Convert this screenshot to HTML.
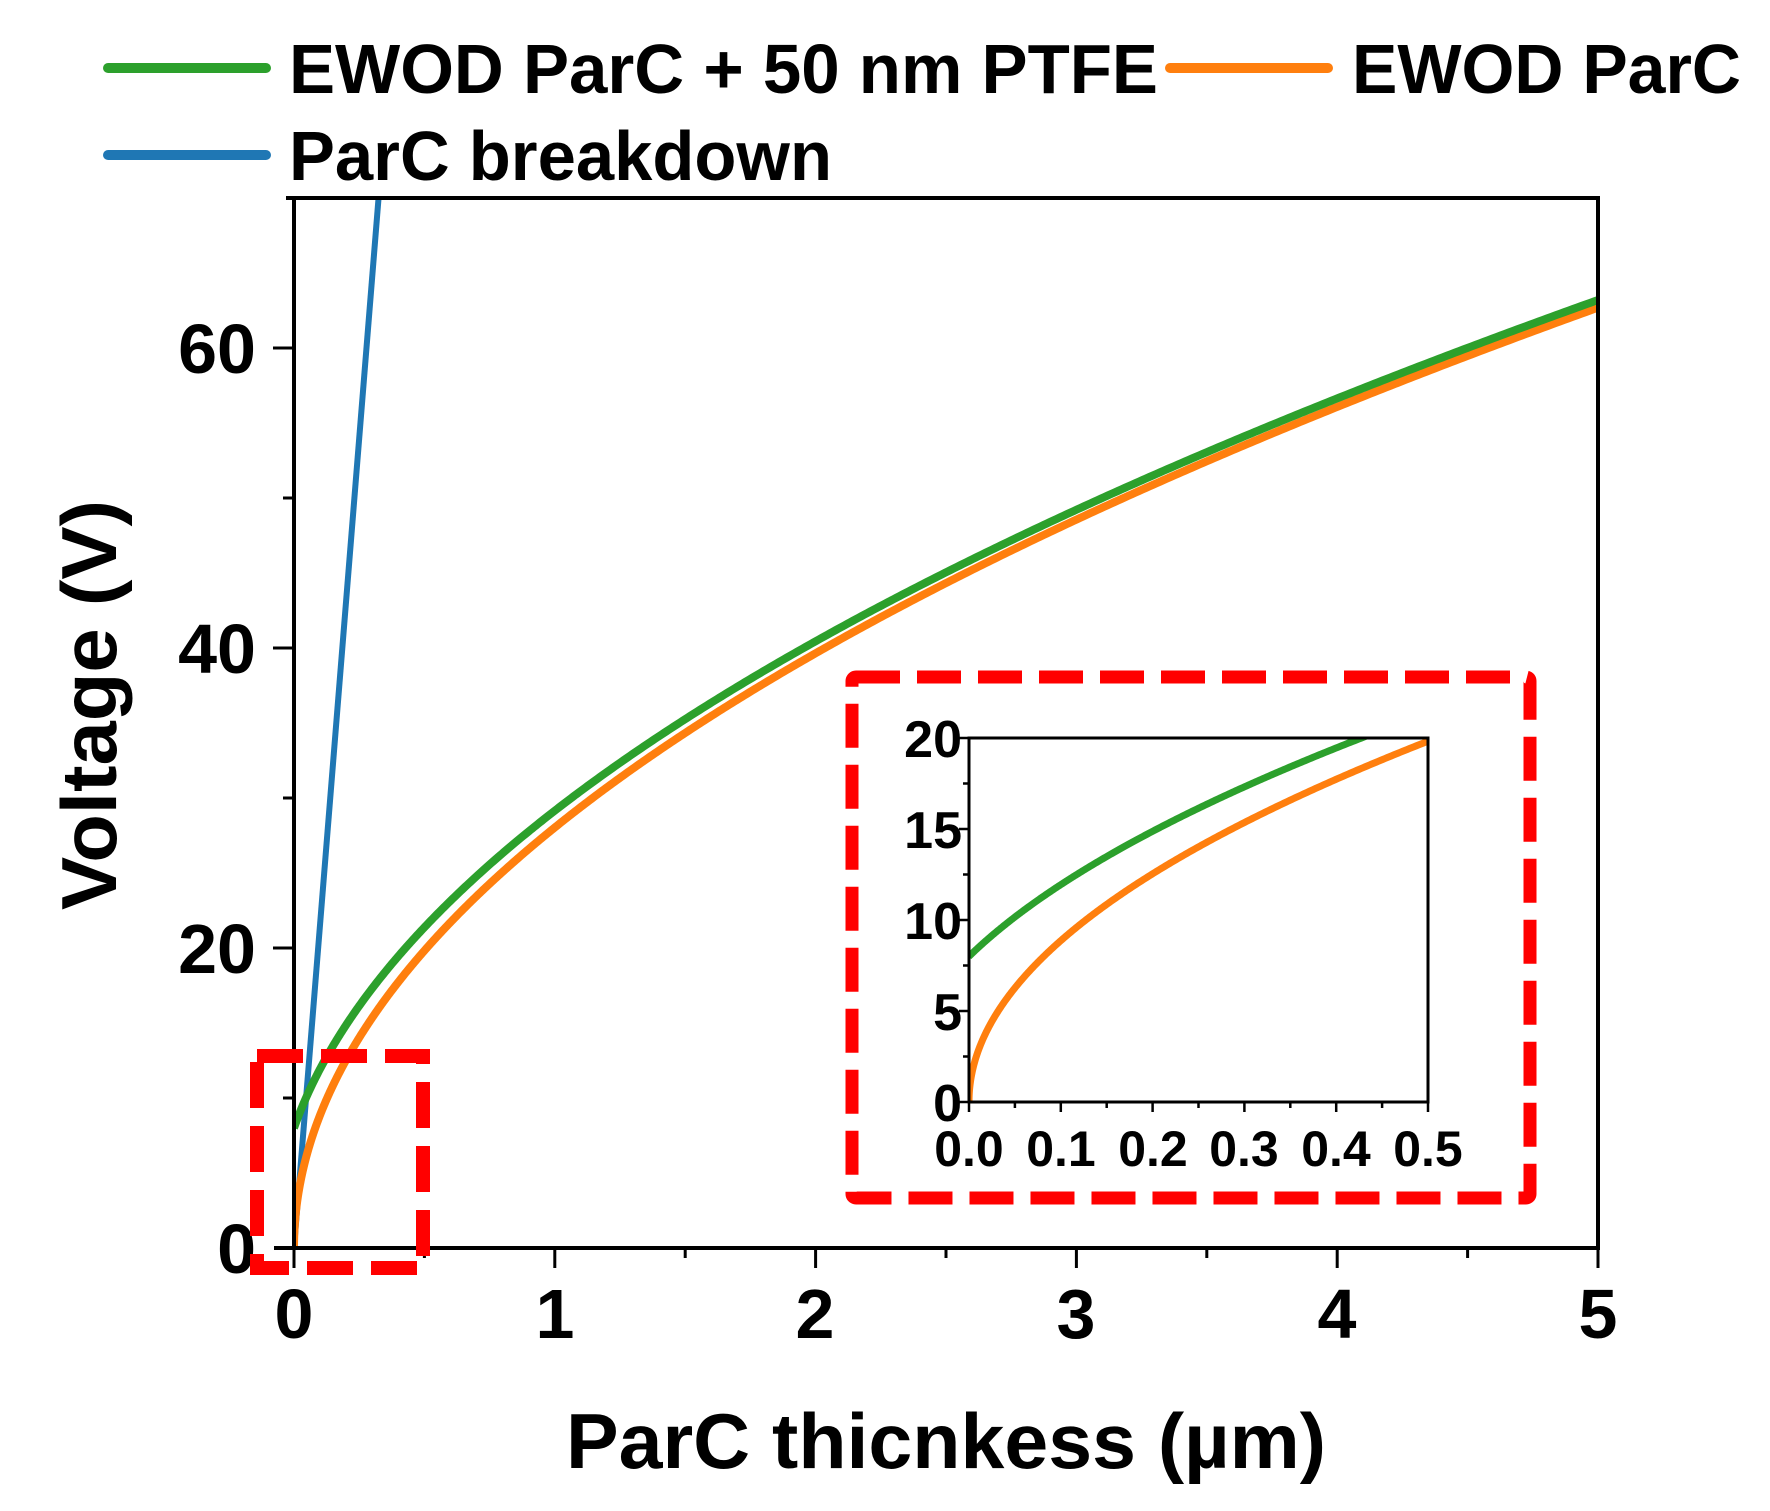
<!DOCTYPE html>
<html><head><meta charset="utf-8"><style>
html,body{margin:0;padding:0;background:#fff;}
svg{display:block;}
text{font-family:"Liberation Sans",Arial,sans-serif;font-weight:bold;fill:#000;}
</style></head><body>
<svg id="s" width="1770" height="1511" viewBox="0 0 1770 1511" xmlns="http://www.w3.org/2000/svg">
<defs>
<clipPath id="cm"><rect x="294" y="198" width="1304" height="1050"/></clipPath>
<clipPath id="ci"><rect x="969" y="738" width="459" height="364"/></clipPath>
</defs>
<line x1="108" y1="68" x2="266" y2="68" stroke="#2ca02c" stroke-width="10" stroke-linecap="round"/>
<text x="289" y="93" font-size="70" textLength="869" lengthAdjust="spacingAndGlyphs">EWOD ParC + 50 nm PTFE</text>
<line x1="1170" y1="68" x2="1328" y2="68" stroke="#ff7f0e" stroke-width="10" stroke-linecap="round"/>
<text x="1352" y="93" font-size="70" textLength="389" lengthAdjust="spacingAndGlyphs">EWOD ParC</text>
<line x1="108" y1="155" x2="266" y2="155" stroke="#1f77b4" stroke-width="10" stroke-linecap="round"/>
<text x="289" y="180" font-size="70" textLength="543" lengthAdjust="spacingAndGlyphs">ParC breakdown</text>

<g clip-path="url(#cm)" fill="none">
<path id="pb" stroke="#1f77b4" stroke-width="6"/>
<path id="po" stroke="#ff7f0e" stroke-width="8"/>
<path id="pg" stroke="#2ca02c" stroke-width="8"/>
</g>
<g stroke="#000" stroke-width="4" fill="none">
<rect x="294" y="198" width="1304" height="1050"/>
<line x1="274" y1="1248" x2="294" y2="1248"/>
<line x1="286" y1="198" x2="294" y2="198"/>
</g>
<g id="mt" stroke="#000" stroke-width="3"></g>
<g font-size="70" text-anchor="end">
<text x="256" y="373">60</text>
<text x="256" y="673">40</text>
<text x="256" y="973">20</text>
<text x="256" y="1273">0</text>
</g>
<g font-size="70" text-anchor="middle">
<text x="294" y="1338">0</text>
<text x="555" y="1338">1</text>
<text x="815" y="1338">2</text>
<text x="1076" y="1338">3</text>
<text x="1337" y="1338">4</text>
<text x="1598" y="1338">5</text>
</g>
<text x="566" y="1468" font-size="78" textLength="760" lengthAdjust="spacingAndGlyphs">ParC thicnkess (µm)</text>
<text transform="translate(116,910) rotate(-90)" font-size="78" textLength="410" lengthAdjust="spacingAndGlyphs">Voltage (V)</text>

<rect x="257" y="1056" width="166" height="212" fill="none" stroke="#ff0000" stroke-width="14" stroke-dasharray="46 18"/>
<rect x="852" y="677" width="678" height="521" fill="none" stroke="#ff0000" stroke-width="13" stroke-dasharray="44 17" rx="4"/>

<g clip-path="url(#ci)" fill="none">
<path id="io" stroke="#ff7f0e" stroke-width="7"/>
<path id="ig" stroke="#2ca02c" stroke-width="7"/>
</g>
<rect x="969" y="738" width="459" height="364" fill="none" stroke="#000" stroke-width="3"/>
<g id="it" stroke="#000" stroke-width="2.5"></g>
<g font-size="52" text-anchor="end">
<text x="962" y="757">20</text>
<text x="962" y="848">15</text>
<text x="962" y="939">10</text>
<text x="962" y="1030">5</text>
<text x="962" y="1121">0</text>
</g>
<g font-size="50" text-anchor="middle">
<text x="969" y="1166">0.0</text>
<text x="1061" y="1166">0.1</text>
<text x="1153" y="1166">0.2</text>
<text x="1244" y="1166">0.3</text>
<text x="1336" y="1166">0.4</text>
<text x="1428" y="1166">0.5</text>
</g>
</svg>
<script>
(function(){
var K2=786;
function vo(t){return Math.sqrt(K2*t);}
function vg(t){return Math.sqrt(K2*t+64);}
function mx(t){return 294+t*260.8;} function my(v){return 1248-v*15;}
function ix(t){return 969+t*918;} function iy(v){return 1102-v*18.2;}
function path(f,X,Y,t0,t1,n){var d="";for(var i=0;i<=n;i++){var t=t0+(t1-t0)*Math.pow(i/n,2);d+=(i?"L":"M")+X(t).toFixed(2)+" "+Y(f(t)).toFixed(2);}return d;}
document.getElementById("po").setAttribute("d",path(vo,mx,my,0,5.02,600));
document.getElementById("pg").setAttribute("d",path(vg,mx,my,0,5.02,600));
document.getElementById("pb").setAttribute("d","M294 1248L"+mx(0.33).toFixed(1)+" "+my(0.33*216).toFixed(1));
document.getElementById("io").setAttribute("d",path(vo,ix,iy,0,0.51,400));
document.getElementById("ig").setAttribute("d",path(vg,ix,iy,0,0.51,400));
var g=document.getElementById("mt"),s="";
for(var i=0;i<=10;i++){var x=mx(i*0.5);s+='<line x1="'+x+'" y1="1248" x2="'+x+'" y2="'+(i%2?1258:1268)+'"/>';}
for(var j=1;j<=6;j++){var y=my(j*10);s+='<line x1="'+(j%2?283:273)+'" y1="'+y+'" x2="294" y2="'+y+'"/>';}
g.innerHTML=s;
var h=document.getElementById("it"),u="";
for(var i=0;i<=10;i++){var x=ix(i*0.05);u+='<line x1="'+x+'" y1="1102" x2="'+x+'" y2="'+(i%2?1108:1112)+'"/>';}
for(var j=0;j<=8;j++){var y=iy(j*2.5);u+='<line x1="'+(j%2?963:959)+'" y1="'+y+'" x2="969" y2="'+y+'"/>';}
h.innerHTML=u;
})();
</script>
</body></html>
